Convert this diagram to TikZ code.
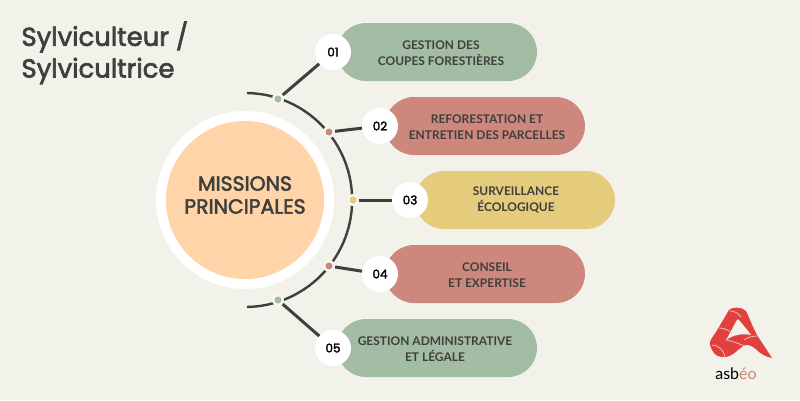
\documentclass[tikz,border=0pt]{standalone}
\usepackage{fontspec}
\setmainfont{Poppins}
\newfontfamily\medf[FakeBold=2.5]{Poppins}
\newfontfamily\labelfont{Lato}
\definecolor{bgc}{HTML}{F2F2EA}
\definecolor{ink}{HTML}{3F3F3C}
\definecolor{greenc}{HTML}{A3BDA5}
\definecolor{redc}{HTML}{CD877C}
\definecolor{yellowc}{HTML}{E5CB7C}
\definecolor{peach}{HTML}{FFD4A9}
\definecolor{logored}{HTML}{E2403F}
\tikzset{
  x=1bp,y=-1bp,
  pill/.style={rounded corners=29bp,minimum width=200bp,minimum height=58bp,inner sep=0pt,anchor=center},
  pilltext/.style={align=center,text=ink,inner sep=0pt,font=\labelfont\bfseries\fontsize{12}{16}\selectfont},
  numc/.style={circle,fill=white,minimum size=36bp,inner sep=0pt,text=black,font=\medf\fontsize{12}{12}\selectfont},
  halo/.style={circle,fill=bgc!60!white,minimum size=12bp,inner sep=0pt},
  dotc/.style={circle,minimum size=7bp,inner sep=0pt},
  conn/.style={draw=ink,line width=3bp},
  arcl/.style={draw=ink,line width=2.4bp},
  logoline/.style={draw=bgc!70!logored,line width=.8bp}
}
\begin{document}
\begin{tikzpicture}
\fill[bgc] (0,0) rectangle (800,400);
\useasboundingbox (0,0) rectangle (800,400);
% title
\node[anchor=west,text=ink,font=\medf\fontsize{26}{30}\selectfont] (t1) at (18,37) {Sylviculteur /};
\node[anchor=west,text=ink,font=\medf\fontsize{26}{30}\selectfont] (t2) at (18,71) {Sylvicultrice};
% centre
\node[circle,fill=white,minimum size=178bp,inner sep=0pt] (ring) at (245,200) {};
\node[circle,fill=peach,minimum size=158bp,inner sep=0pt] (core) at (245,200) {};
\node[align=center,text=ink,inner sep=0pt,font=\medf\fontsize{20.5}{23}\selectfont] (coretext) at (245,195) {MISSIONS\\PRINCIPALES};
% arc
\coordinate (arcc) at (245,200);
\draw[arcl] (247,93) arc[start angle=-89,end angle=89,radius=107];
% pills
\node[pill,fill=greenc]  (p1) at (437,52)  {};
\node[pill,fill=redc]    (p2) at (485,126) {};
\node[pill,fill=yellowc] (p3) at (515,200) {};
\node[pill,fill=redc]    (p4) at (485,274) {};
\node[pill,fill=greenc]  (p5) at (437,348) {};
\node[pilltext] (l1) at (441,53)  {GESTION DES\\COUPES FORESTIÈRES};
\node[pilltext] (l2) at (487,127) {REFORESTATION ET\\ENTRETIEN DES PARCELLES};
\node[pilltext] (l3) at (516,200) {SURVEILLANCE\\ÉCOLOGIQUE};
\node[pilltext] (l4) at (487,275) {CONSEIL\\ET EXPERTISE};
\node[pilltext] (l5) at (435,349) {GESTION ADMINISTRATIVE\\ET LÉGALE};
% numbers
\node[numc] (n1) at (333,52)  {01};
\node[numc] (n2) at (380,126) {02};
\node[numc] (n3) at (410,200) {03};
\node[numc] (n4) at (380,274) {04};
\node[numc] (n5) at (333,348) {05};
% dots
\node[halo] (h1) at (278,99)  {};
\node[halo] (h2) at (329,132) {};
\node[halo] (h3) at (353,200) {};
\node[halo] (h4) at (329,266) {};
\node[halo] (h5) at (278,300) {};
\node[dotc,fill=greenc]  (d1) at (h1) {};
\node[dotc,fill=redc]    (d2) at (h2) {};
\node[dotc,fill=yellowc] (d3) at (h3) {};
\node[dotc,fill=redc]    (d4) at (h4) {};
\node[dotc,fill=greenc]  (d5) at (h5) {};
% connectors
\draw[conn] (h1) -- (n1);
\draw[conn] (h2) -- (n2);
\draw[conn] (h3) -- (n3);
\draw[conn] (h4) -- (n4);
\draw[conn] (h5) -- (n5);
% logo
\fill[logored] (729,310) .. controls (732,307) and (741,306) .. (746,311)
  .. controls (750,319) and (753,328) .. (757,335)
  .. controls (762,343) and (767,350) .. (772,358)
  .. controls (767,357) and (763,355) .. (759,352)
  .. controls (755,348) and (751,345) .. (747,345)
  .. controls (743,345) and (741,348) .. (738,350)
  .. controls (734,354) and (728,358) .. (722,357)
  .. controls (716,357) and (712,352) .. (710,345)
  .. controls (709,341) and (712,338) .. (716,332) -- cycle;
\fill[bgc] (737,320) .. controls (733,327) and (730,333) .. (726,340)
  .. controls (733,335) and (742,333) .. (751,335)
  .. controls (747,329) and (742,324) .. (739,320) .. controls (738,319) and (737.5,319) .. (737,320) -- cycle;
\draw[logoline] (744,340) .. controls (748,337) and (753,336) .. (758,336);
\draw[logoline] (712,345) .. controls (718,345) and (724,350) .. (725,357);
\draw[logoline] (726,340) .. controls (732,341) and (740,344) .. (744,346);
\draw[logoline] (719,328) .. controls (725,328) and (730,331) .. (732,333);
\draw[logoline] (730,311) .. controls (735,311) and (739,314) .. (741,317);
\node[anchor=center,font=\labelfont\fontsize{16}{16}\selectfont] (lg) at (736,374) {asb\textcolor{redc}{éo}};
\end{tikzpicture}
\end{document}
